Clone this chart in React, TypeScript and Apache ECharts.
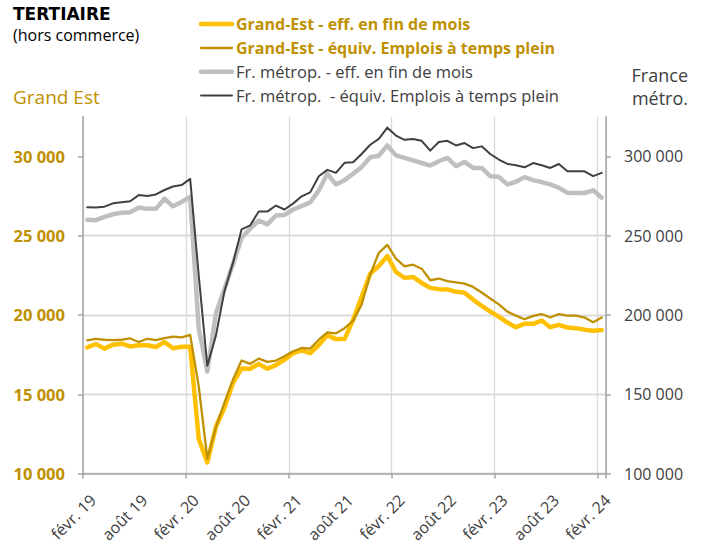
import React, { useEffect, useRef } from "react";
import * as echarts from "echarts";

const categories = [
  "févr. 19", "mars 19", "avr. 19", "mai 19", "juin 19", "juil. 19", "août 19", "sept. 19", "oct. 19", "nov. 19", "déc. 19",
  "janv. 20", "févr. 20", "mars 20", "avr. 20", "mai 20", "juin 20", "juil. 20", "août 20", "sept. 20", "oct. 20", "nov. 20", "déc. 20",
  "janv. 21", "févr. 21", "mars 21", "avr. 21", "mai 21", "juin 21", "juil. 21", "août 21", "sept. 21", "oct. 21", "nov. 21", "déc. 21",
  "janv. 22", "févr. 22", "mars 22", "avr. 22", "mai 22", "juin 22", "juil. 22", "août 22", "sept. 22", "oct. 22", "nov. 22", "déc. 22",
  "janv. 23", "févr. 23", "mars 23", "avr. 23", "mai 23", "juin 23", "juil. 23", "août 23", "sept. 23", "oct. 23", "nov. 23", "déc. 23",
  "janv. 24", "févr. 24",
];

// Grand-Est - effectifs en fin de mois (left axis)
const geEff = [
  17960, 18170, 17880, 18130, 18190, 18020, 18090, 18090, 17980, 18300, 17900,
  18000, 18000, 12200, 10700, 12960, 14170, 15730, 16630, 16610, 16920, 16610, 16840,
  17190, 17590, 17770, 17590, 18100, 18730, 18480, 18480, 19690, 21150, 22610, 23090,
  23710, 22710, 22340, 22400, 22020, 21710, 21630, 21610, 21460, 21400, 20980, 20570,
  20210, 19900, 19520, 19230, 19440, 19440, 19650, 19230, 19380, 19210, 19170, 19070,
  19000, 19050,
];

// Grand-Est - équivalent emplois à temps plein (left axis)
const geEtp = [
  18400, 18500, 18440, 18420, 18440, 18520, 18300, 18500, 18420, 18540, 18630,
  18590, 18750, 15500, 10940, 12920, 14480, 15940, 17130, 16920, 17250, 17040, 17130,
  17400, 17710, 17920, 17880, 18440, 18900, 18840, 19170, 19630, 20670, 22540, 23920,
  24420, 23550, 23070, 23170, 22920, 22190, 22300, 22130, 22050, 21980, 21770, 21420,
  21040, 20670, 20210, 19960, 19730, 19940, 20060, 19840, 20060, 19960, 19960, 19840,
  19540, 19840,
];

// France métropolitaine - effectifs en fin de mois (right axis)
const frEff = [
  260000, 259800, 261900, 263500, 264400, 264800, 267700, 266900, 266900, 273300, 268500,
  271300, 274400, 191500, 164400, 200900, 216500, 232100, 248700, 254400, 259600, 257100, 262700,
  263100, 266500, 268600, 271000, 278500, 289000, 282300, 285000, 289000, 293200, 299400, 300400,
  306900, 300600, 299000, 297500, 295800, 294200, 296900, 299000, 293800, 296500, 292700, 292700,
  287500, 287100, 282300, 284000, 286900, 285000, 283800, 282300, 280200, 277100, 276900, 276900,
  278600, 274000,
];

// France métropolitaine - équivalent emplois à temps plein (right axis)
const frEtp = [
  267900, 267700, 268300, 270400, 271000, 271700, 275600, 275000, 276000, 278800, 281000,
  281900, 285800, 224800, 168000, 187000, 215000, 233000, 254000, 256500, 265200, 265200, 269000,
  266500, 270200, 274800, 277300, 287500, 291500, 289600, 295900, 296300, 301500, 307300, 311000,
  318100, 313100, 310400, 311000, 309800, 303600, 309000, 309800, 306900, 308400, 305200, 306300,
  301500, 298000, 295200, 294400, 293100, 295800, 294400, 292700, 295200, 290600, 290600, 290600,
  287500, 289600,
];

const leftTicks = [10000, 15000, 20000, 25000, 30000];
const rightTicks = [100000, 150000, 200000, 250000, 300000];

const seriesNames = [
  "Grand-Est - eff. en fin de mois",
  "Grand-Est - équiv. Emplois à temps plein",
  "Fr. métrop. - eff. en fin de mois",
  "Fr. métrop.  - équiv. Emplois à temps plein",
];

const GOLD = "#BF9000";
const YELLOW = "#FFC000";
const LGRAY = "#BFBFBF";
const DGRAY = "#404040";
const AXIS = "#A6A6A6";
const GRID = "#D9D9D9";
const FONT = '"Open Sans", sans-serif';

const fmt = (v: number) => String(v).replace(/\B(?=(\d{3})+(?!\d))/g, " ");

export default function App() {
  const ref = useRef<HTMLDivElement>(null);
  useEffect(() => {
    if (!ref.current) return;
    const chart = echarts.init(ref.current, null, { renderer: "svg" });
    const legendY = [24, 48, 71.8, 95.6];
    const legendColors = [YELLOW, GOLD, LGRAY, DGRAY];
    const legendWidths = [4.5, 2.3, 4.5, 2];
    const legendText = [GOLD, GOLD, DGRAY, DGRAY];
    const legendFont = [
      `bold 16px ${FONT}`,
      `bold 16px ${FONT}`,
      `16.5px ${FONT}`,
      `16.5px ${FONT}`,
    ];
    const graphic: any[] = [
      {
        type: "text", x: 13, y: 14,
        style: { text: "TERTIAIRE", fill: "#000", font: 'bold 17px "DejaVu Sans", sans-serif', verticalAlign: "middle" },
      },
      {
        type: "text", x: 13, y: 35,
        style: { text: "(hors commerce)", fill: "#000", font: `16px ${FONT}`, verticalAlign: "middle" },
      },
      {
        type: "text", x: 13, y: 97,
        style: { text: "Grand Est", fill: GOLD, font: `19px ${FONT}`, verticalAlign: "middle" },
      },
      {
        type: "text", x: 688, y: 75,
        style: { text: "France", fill: DGRAY, font: `18px ${FONT}`, align: "right", verticalAlign: "middle" },
      },
      {
        type: "text", x: 688, y: 98,
        style: { text: "métro.", fill: DGRAY, font: `18px ${FONT}`, align: "right", verticalAlign: "middle" },
      },
    ];
    seriesNames.forEach((n, i) => {
      graphic.push({
        type: "line",
        shape: { x1: 201, y1: legendY[i], x2: 232, y2: legendY[i] },
        style: { stroke: legendColors[i], lineWidth: legendWidths[i], lineCap: "round" },
      });
      graphic.push({
        type: "text", x: 236, y: legendY[i],
        style: { text: n, fill: legendText[i], font: legendFont[i], verticalAlign: "middle" },
      });
    });

    const yCommon = {
      type: "value",
      axisLine: { show: true, lineStyle: { color: AXIS, width: 1.5 } },
      axisTick: { show: true, length: 5, lineStyle: { color: AXIS, width: 1.5 } },
      splitLine: { show: true, showMaxLine: false, lineStyle: { color: GRID, width: 1.3 } },
    };

    chart.setOption({
      animation: false,
      grid: { left: 83, right: 97, top: 116.7, bottom: 68.3, containLabel: false },
      graphic,
      xAxis: {
        type: "category",
        data: categories,
        boundaryGap: true,
        axisLine: { show: true, lineStyle: { color: AXIS, width: 1.5 } },
        axisTick: { show: true, interval: 11, length: 5, lineStyle: { color: AXIS, width: 1.5 } },
        splitLine: { show: true, interval: 11, lineStyle: { color: GRID, width: 1.3 } },
        axisLabel: {
          interval: 5, rotate: 45, margin: 18, fontSize: 16, color: DGRAY, fontFamily: FONT,
          verticalAlign: "top", align: "right",
        },
      },
      yAxis: [
        {
          ...yCommon,
          position: "left",
          min: 10000, max: 32500, interval: 5000,
          axisTick: { ...yCommon.axisTick, customValues: leftTicks },
          axisLabel: {
            showMaxLabel: false, margin: 18, fontSize: 16.5, fontWeight: "bold", color: GOLD, fontFamily: FONT,
            formatter: (v: number) => (v > 30000 ? "" : fmt(v)),
          },
        },
        {
          ...yCommon,
          position: "right",
          min: 100000, max: 325000, interval: 50000,
          axisTick: { ...yCommon.axisTick, customValues: rightTicks },
          axisLabel: {
            showMaxLabel: false, margin: 18, fontSize: 16, color: DGRAY, fontFamily: FONT,
            formatter: (v: number) => (v > 300000 ? "" : fmt(v)),
          },
        },
      ],
      series: [
        {
          name: seriesNames[2], type: "line", yAxisIndex: 1, data: frEff, symbol: "none",
          lineStyle: { color: LGRAY, width: 4.5, join: "round", cap: "round" },
        },
        {
          name: seriesNames[3], type: "line", yAxisIndex: 1, data: frEtp, symbol: "none",
          lineStyle: { color: DGRAY, width: 2, join: "round", cap: "round" },
        },
        {
          name: seriesNames[0], type: "line", yAxisIndex: 0, data: geEff, symbol: "none",
          lineStyle: { color: YELLOW, width: 4.5, join: "round", cap: "round" },
        },
        {
          name: seriesNames[1], type: "line", yAxisIndex: 0, data: geEtp, symbol: "none",
          lineStyle: { color: GOLD, width: 2.3, join: "round", cap: "round" },
        },
      ],
    });
    return () => chart.dispose();
  }, []);
  return (
    <div
      ref={ref}
      style={{ position: "fixed", left: 0, top: 0, width: 703, height: 545, background: "#fff" }}
    />
  );
}
